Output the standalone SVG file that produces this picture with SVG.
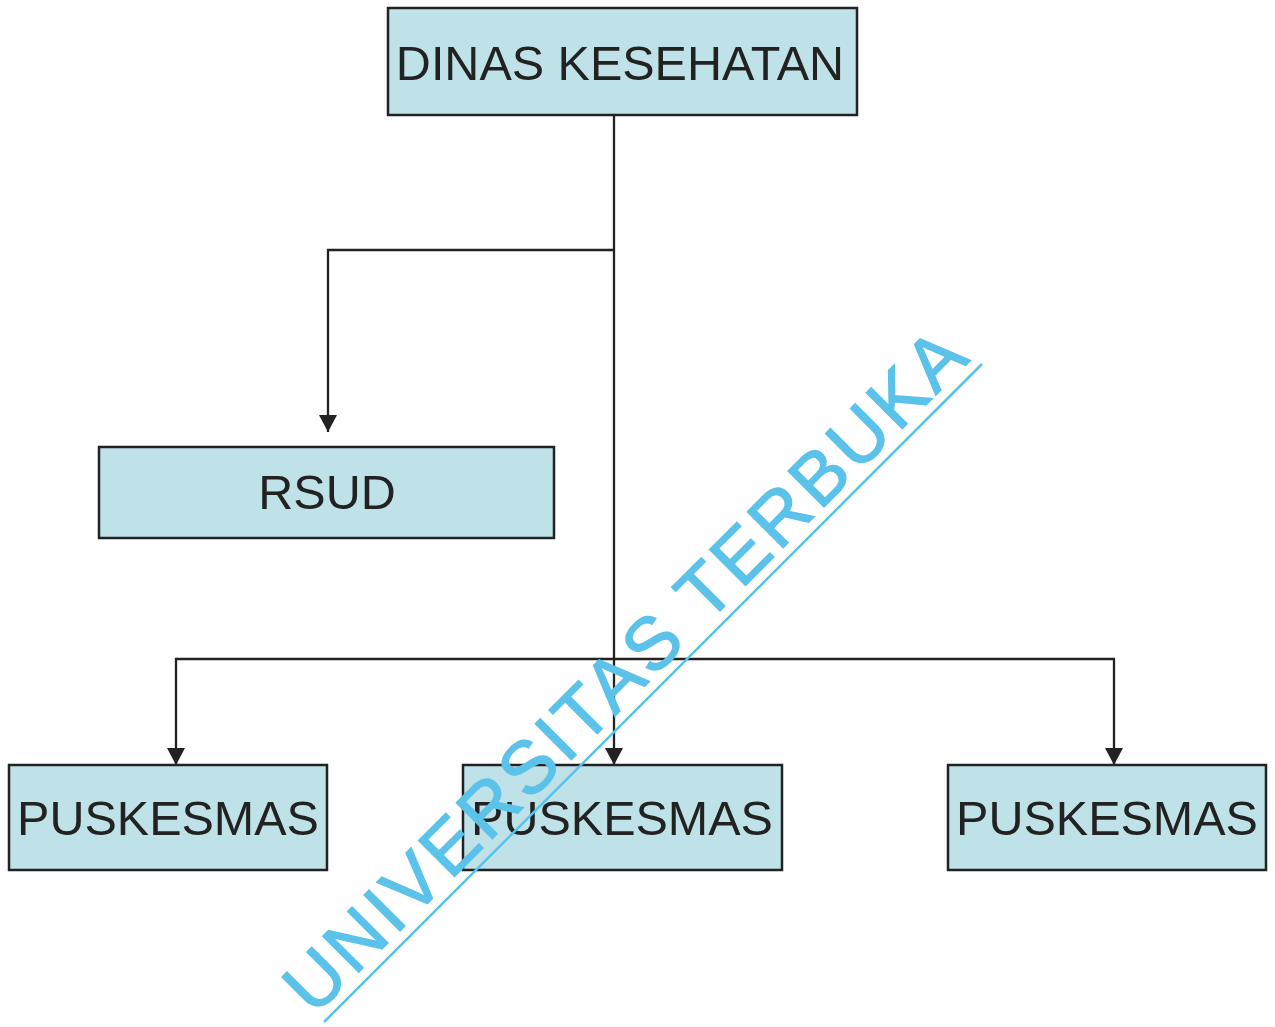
<svg xmlns="http://www.w3.org/2000/svg" width="1275" height="1027" viewBox="0 0 1275 1027">
  <style>
    .box { fill: #bfe2e8; stroke: #222222; stroke-width: 2.5; }
    .lbl { font-family: "Liberation Sans", Arial, sans-serif; font-size: 48.5px; fill: #222222; text-anchor: middle; }
    .conn { fill: none; stroke: #222222; stroke-width: 2.3; }
    .wm { font-family: "Liberation Sans", Arial, sans-serif; font-size: 74px; fill: #5bc2ea; stroke: #5bc2ea; stroke-width: 1.4; letter-spacing: 4px; }
  </style>
  <defs>
    <marker id="arrow" markerUnits="userSpaceOnUse" markerWidth="18" markerHeight="18" viewBox="0 0 18 18" refX="17" refY="9" orient="auto">
      <path d="M0,0 L17,9 L0,18 Z" fill="#222222"/>
    </marker>
  </defs>
  <rect width="1275" height="1027" fill="#ffffff"/>

  <g id="connectors">
    <path class="conn" d="M614,115 V765" marker-end="url(#arrow)"/>
    <path class="conn" d="M614,250 H328 V432" marker-end="url(#arrow)"/>
    <path class="conn" d="M614,659 H176 V765" marker-end="url(#arrow)"/>
    <path class="conn" d="M614,659 H1114 V765" marker-end="url(#arrow)"/>
  </g>

  <g id="dinas">
    <rect class="box" x="388" y="8" width="469" height="107"/>
    <text class="lbl" x="620" y="80">DINAS KESEHATAN</text>
  </g>
  <g id="rsud">
    <rect class="box" x="99" y="447" width="455" height="91"/>
    <text class="lbl" x="327" y="509">RSUD</text>
  </g>
  <g id="puskesmas1">
    <rect class="box" x="9" y="765" width="318" height="105"/>
    <text class="lbl" x="168" y="835">PUSKESMAS</text>
  </g>
  <g id="puskesmas2">
    <rect class="box" x="463" y="765" width="319" height="105"/>
    <text class="lbl" x="622" y="835">PUSKESMAS</text>
  </g>
  <g id="puskesmas3">
    <rect class="box" x="948" y="765" width="318" height="105"/>
    <text class="lbl" x="1107" y="835">PUSKESMAS</text>
  </g>

  <g id="watermark">
    <text class="wm" x="314" y="1017" transform="rotate(-45 314 1017)">UNIVERSITAS TERBUKA</text>
    <line x1="324" y1="1022" x2="982" y2="364" stroke="#5bc2ea" stroke-width="2.5"/>
  </g>
</svg>
